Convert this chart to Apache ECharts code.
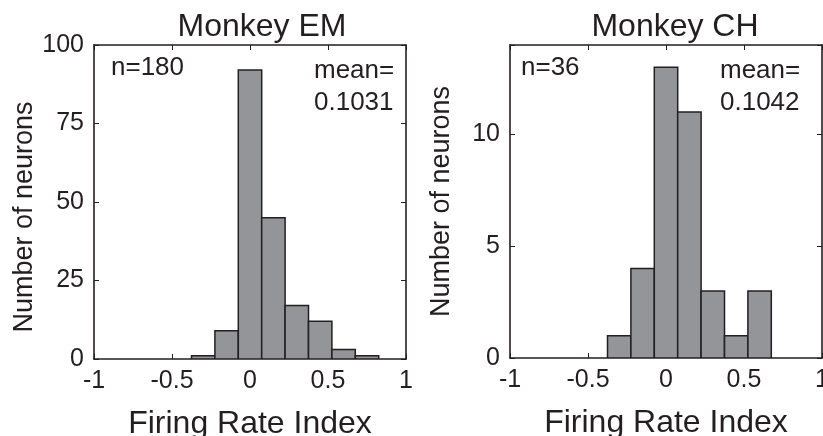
<!DOCTYPE html>
<html>
<head>
<meta charset="utf-8">
<script src="https://cdn.jsdelivr.net/npm/echarts@6/dist/echarts.min.js"></script>
<style>
  html, body { margin: 0; padding: 0; background: #ffffff; }
  #chart { width: 823px; height: 436px; }
</style>
</head>
<body>
<div id="chart"></div>
<script>
// Histogram bin centres (firing rate index), bin width 0.15
const binWidth = 0.15;
const emCenters = [-0.3, -0.15, 0, 0.15, 0.3, 0.45, 0.6, 0.75];
const emCounts  = [1, 9, 92, 45, 17, 12, 3, 1];
const chCenters = [-0.3, -0.15, 0, 0.15, 0.3, 0.45, 0.6];
const chCounts  = [1, 4, 13, 11, 3, 1, 3];

const titles = ['Monkey EM', 'Monkey CH'];
const nLabels = ['n=180', 'n=36'];
const meanLabels = ['mean=\n0.1031', 'mean=\n0.1042'];
const emYMax = 100, emYStep = 25;
const chYMax = 14, chYStep = 5;

const FONT = '"Liberation Sans", Arial, Helvetica, sans-serif';
const INK = '#231f20';

const chart = echarts.init(document.getElementById('chart'), null, { renderer: 'canvas' });

// Fixed plot boxes; axis names may run past the canvas edge
const grids = [
  { left: 94, top: 45, width: 312, height: 314, outerBoundsMode: 'none', containLabel: false },
  { left: 510, top: 45, width: 312, height: 313, outerBoundsMode: 'none', containLabel: false }
];

function xAxes(gi) {
  const common = {
    gridIndex: gi, type: 'value', min: -1, max: 1, interval: 0.5,
    splitLine: { show: false },
    axisLine: { show: true, onZero: false, lineStyle: { color: INK, width: 1.6 } },
    axisTick: { show: true, inside: true, length: 5, lineStyle: { color: INK, width: 1 } }
  };
  return [
    Object.assign({}, common, {
      position: 'bottom',
      axisLabel: { fontFamily: FONT, fontSize: 25, color: INK, margin: 10,
        showMinLabel: true, showMaxLabel: true, hideOverlap: false,
        formatter: v => String(v) },
      name: 'Firing Rate Index', nameLocation: 'middle', nameGap: 49,
      nameTextStyle: { fontFamily: FONT, fontSize: 32, color: INK }
    }),
    Object.assign({}, common, { position: 'top', axisLabel: { show: false } })
  ];
}

function yAxes(gi, max, step, namePad) {
  const common = {
    gridIndex: gi, type: 'value', min: 0, max: max, interval: step,
    splitLine: { show: false },
    axisLine: { show: true, onZero: false, lineStyle: { color: INK, width: 1.6 } },
    axisTick: { show: true, inside: true, length: 5, lineStyle: { color: INK, width: 1 } }
  };
  return [
    Object.assign({}, common, {
      position: 'left',
      axisLabel: { fontFamily: FONT, fontSize: 25, color: INK, margin: 10,
        formatter: v => (v % step === 0 ? String(v) : '') },
      name: 'Number of neurons', nameLocation: 'middle', nameGap: 55,
      nameTextStyle: { fontFamily: FONT, fontSize: 27, color: INK, padding: namePad }
    }),
    Object.assign({}, common, { position: 'right', axisLabel: { show: false } })
  ];
}

function histSeries(gi, centers, counts) {
  return {
    type: 'custom',
    xAxisIndex: gi * 2, yAxisIndex: gi * 2,
    data: centers.map((c, i) => [c, counts[i]]),
    clip: true,
    renderItem: function (params, api) {
      const c = api.value(0), n = api.value(1);
      const p0 = api.coord([c - binWidth / 2, n]);
      const p1 = api.coord([c + binWidth / 2, 0]);
      return {
        type: 'rect',
        shape: { x: p0[0], y: p0[1], width: p1[0] - p0[0], height: p1[1] - p0[1] },
        style: { fill: '#939598', stroke: '#231f20', lineWidth: 1.5 }
      };
    }
  };
}

const option = {
  animation: false,
  backgroundColor: '#ffffff',
  title: [
    { text: titles[0], left: 257, top: 6, textAlign: 'center',
      textStyle: { fontFamily: FONT, fontSize: 32, fontWeight: 'normal', color: INK } },
    { text: titles[1], left: 670, top: 6, textAlign: 'center',
      textStyle: { fontFamily: FONT, fontSize: 32, fontWeight: 'normal', color: INK } }
  ],
  grid: grids,
  xAxis: [].concat(xAxes(0), xAxes(1)).map((a, i) => Object.assign(a, { gridIndex: Math.floor(i / 2) })),
  yAxis: [].concat(yAxes(0, emYMax, emYStep, [0, 30, 0, 0]), yAxes(1, chYMax, chYStep, 0)),
  series: [
    histSeries(0, emCenters, emCounts),
    histSeries(1, chCenters, chCounts)
  ],
  graphic: [
    { type: 'text', left: 111, top: 55,
      style: { text: nLabels[0], font: '26px ' + FONT, fill: INK } },
    { type: 'text', left: 314, top: 55,
      style: { text: meanLabels[0], font: '26px ' + FONT, fill: INK, align: 'left', lineHeight: 32 } },
    { type: 'text', left: 521, top: 55,
      style: { text: nLabels[1], font: '26px ' + FONT, fill: INK } },
    { type: 'text', left: 720, top: 55,
      style: { text: meanLabels[1], font: '26px ' + FONT, fill: INK, align: 'left', lineHeight: 32 } }
  ]
};

chart.setOption(option);
</script>
</body>
</html>
